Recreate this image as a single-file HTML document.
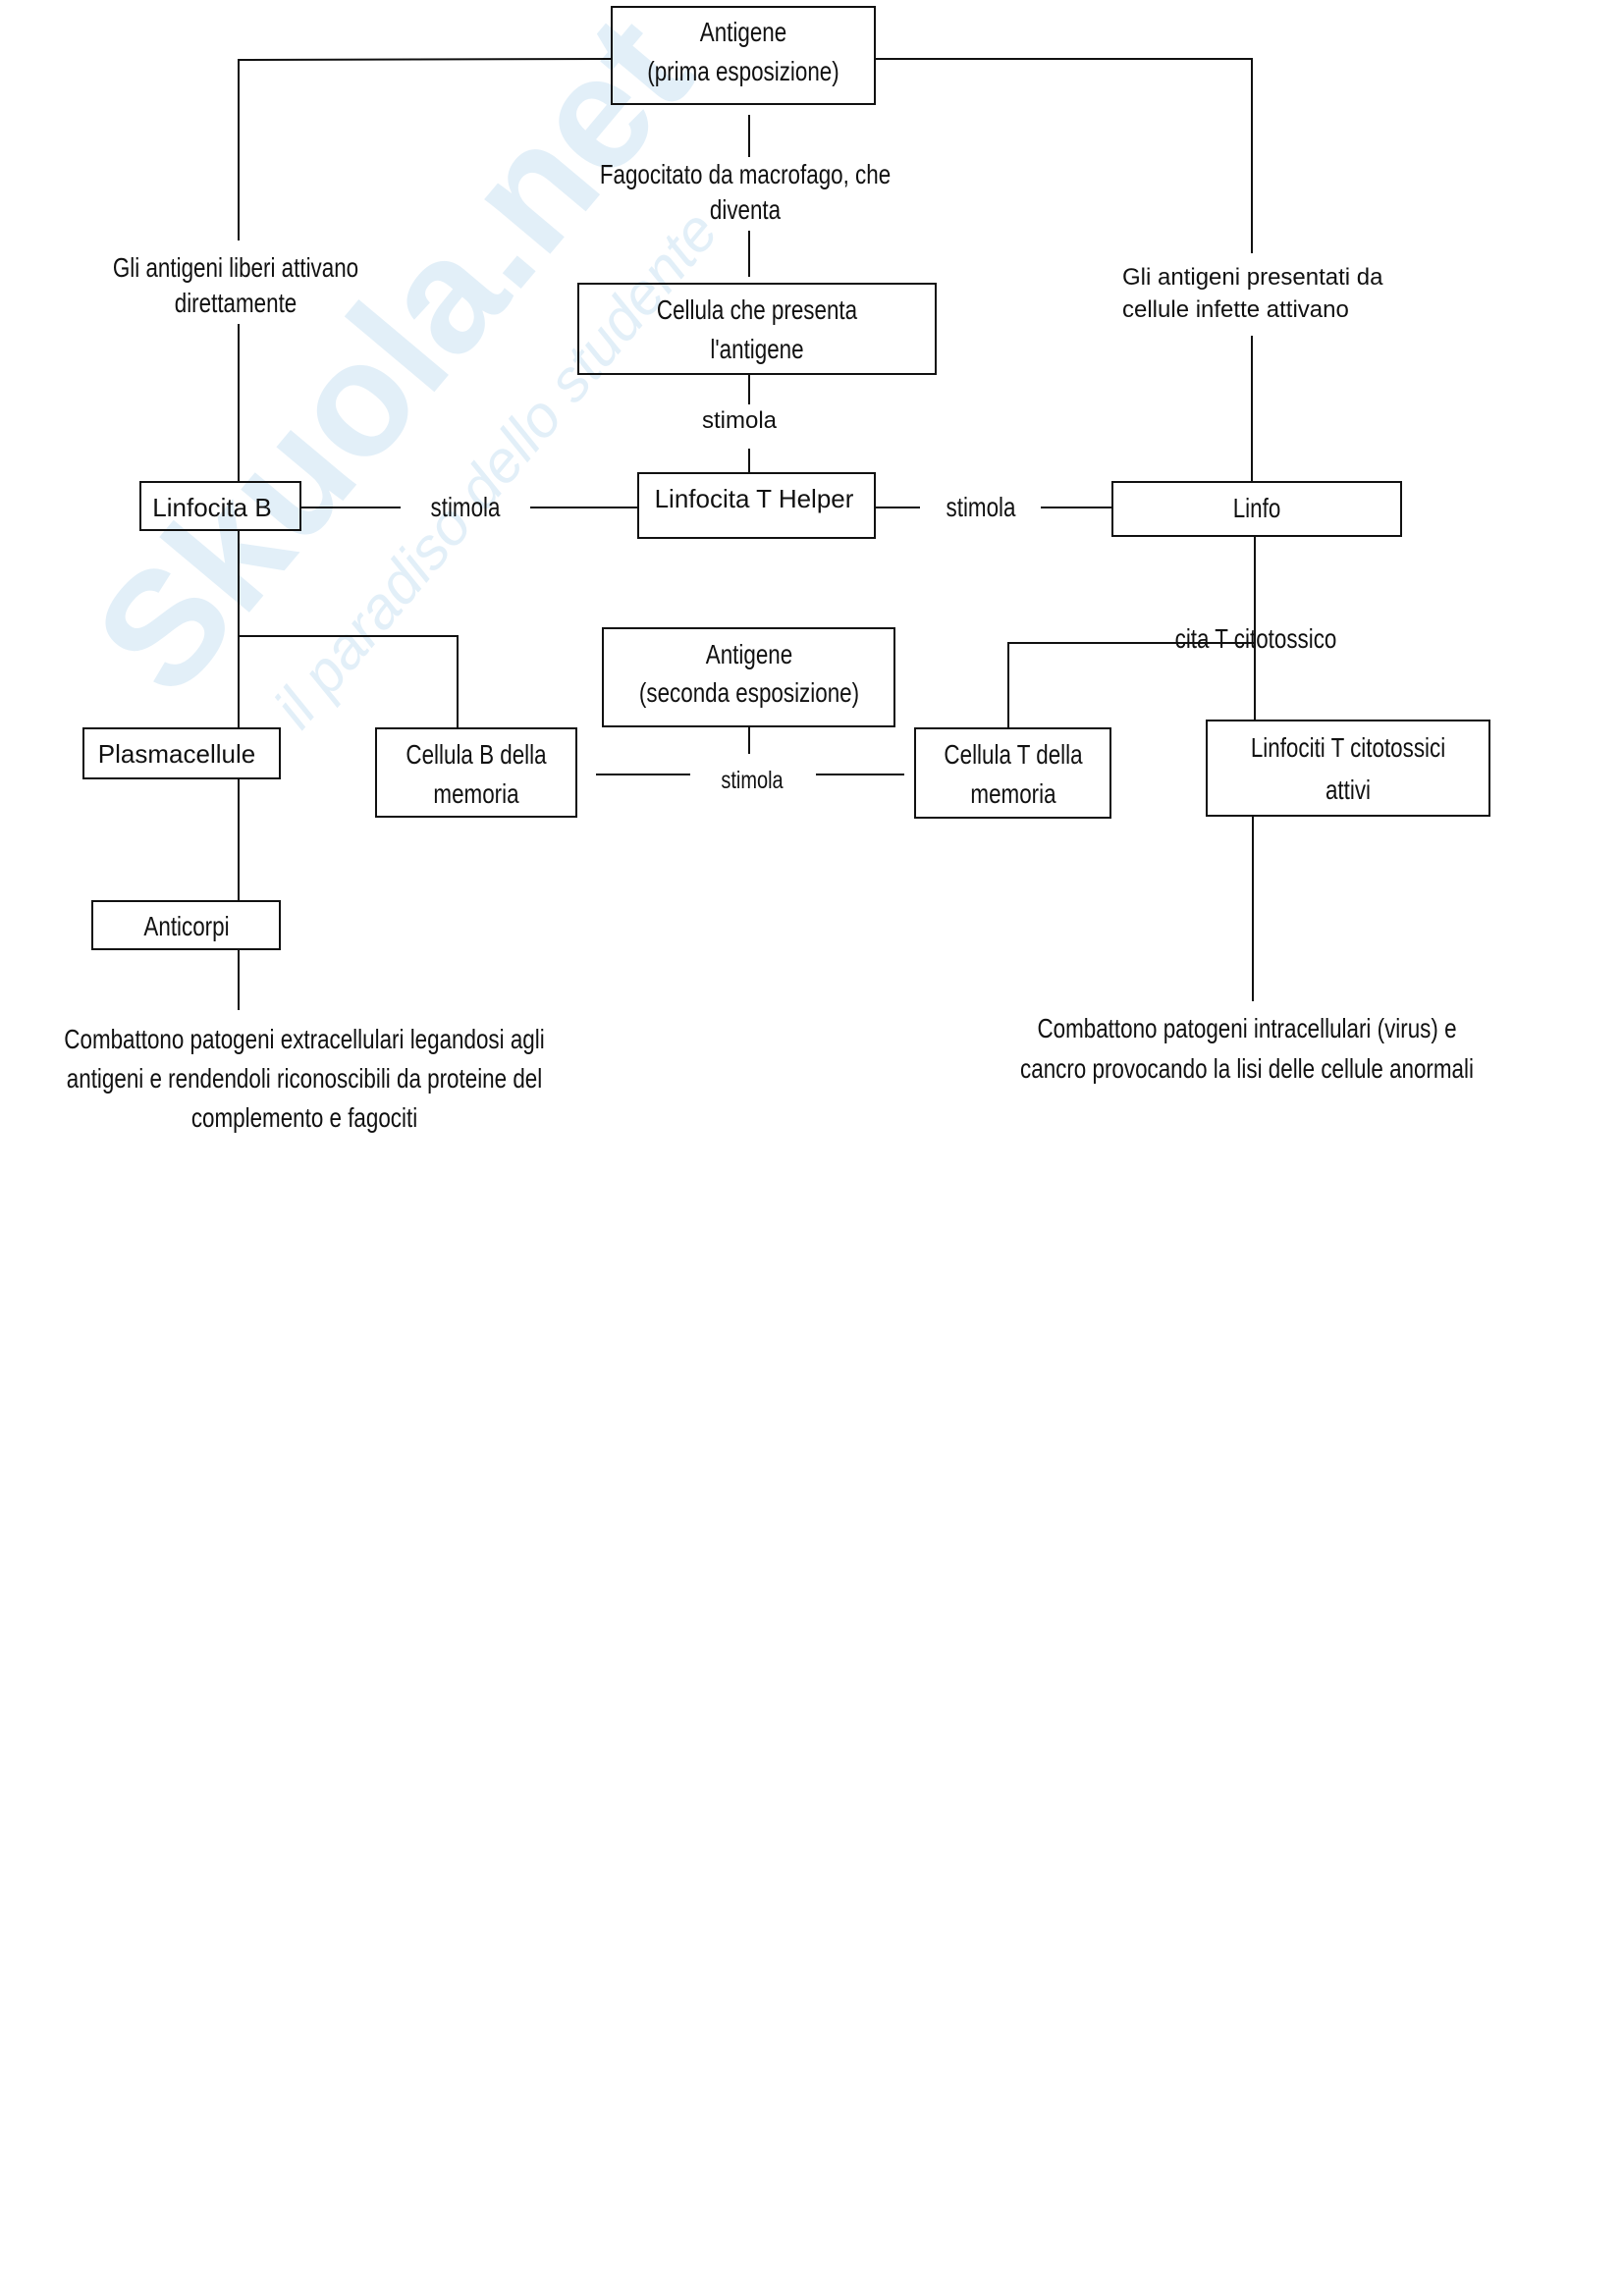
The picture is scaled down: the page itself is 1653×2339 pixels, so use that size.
<!DOCTYPE html>
<html><head><meta charset="utf-8"><style>
body{margin:0;width:1653px;height:2339px;background:#fff;position:relative;overflow:hidden}
.t{position:absolute;font-family:"Liberation Sans",sans-serif;font-size:28px;color:#111;white-space:nowrap;line-height:40px;text-align:center;transform:translateX(-50%) scaleX(0.8)}
.w{font-size:24px;transform:translateX(-50%)}
.b{position:absolute;border:2px solid #111;box-sizing:border-box;background:transparent}
.wm{position:absolute;font-family:"Liberation Sans",sans-serif;font-weight:bold;color:#e2eff8;white-space:nowrap}
</style></head><body>
<div class="wm" style="left:60px;top:620px;font-size:165px;transform:rotate(-50deg);transform-origin:left top">Skuola.net</div>
<div class="wm" style="left:265px;top:710px;font-size:60px;font-weight:normal;font-style:italic;transform:rotate(-50deg);transform-origin:left top">il paradiso dello studente</div>
<svg width="1653" height="2339" style="position:absolute;left:0;top:0" stroke="#111" stroke-width="2" fill="none">
<polyline points="622,60 243,61 243,245"/>
<line x1="243" y1="330" x2="243" y2="490"/>
<polyline points="892,60 1275,60 1275,258"/>
<line x1="1275" y1="342" x2="1275" y2="490"/>
<line x1="763" y1="117" x2="763" y2="160"/>
<line x1="763" y1="235" x2="763" y2="282"/>
<line x1="763" y1="382" x2="763" y2="412"/>
<line x1="763" y1="457" x2="763" y2="481"/>
<line x1="307" y1="517" x2="408" y2="517"/>
<line x1="540" y1="517" x2="649" y2="517"/>
<line x1="892" y1="517" x2="937" y2="517"/>
<line x1="1060" y1="517" x2="1132" y2="517"/>
<line x1="1278" y1="547" x2="1278" y2="733"/>
<polyline points="1278,655 1027,655 1027,741"/>
<line x1="1276" y1="832" x2="1276" y2="1020"/>
<line x1="763" y1="741" x2="763" y2="768"/>
<line x1="607" y1="789" x2="703" y2="789"/>
<line x1="831" y1="789" x2="921" y2="789"/>
<line x1="243" y1="541" x2="243" y2="741"/>
<polyline points="243,648 466,648 466,741"/>
<line x1="243" y1="794" x2="243" y2="917"/>
<line x1="243" y1="968" x2="243" y2="1029"/>
</svg>
<div class="b" style="left:622px;top:6px;width:270px;height:101px"></div>
<div class="t" style="left:757px;top:13px">Antigene</div>
<div class="t" style="left:757px;top:53px">(prima esposizione)</div>
<div class="t" style="left:240px;top:253px">Gli antigeni liberi attivano</div>
<div class="t" style="left:240px;top:289px">direttamente</div>
<div class="t w" style="left:1143px;top:263px;transform:none;text-align:left">Gli antigeni presentati da</div>
<div class="t w" style="left:1143px;top:296px;transform:none;text-align:left">cellule infette attivano</div>
<div class="t" style="left:759px;top:158px">Fagocitato da macrofago, che</div>
<div class="t" style="left:759px;top:194px">diventa</div>
<div class="b" style="left:588px;top:288px;width:366px;height:94px"></div>
<div class="t" style="left:771px;top:296px">Cellula che presenta</div>
<div class="t" style="left:771px;top:336px">l'antigene</div>
<div class="t w" style="left:753px;top:409px">stimola</div>
<div class="b" style="left:649px;top:481px;width:243px;height:68px"></div>
<div class="t w" style="left:768px;top:488px;font-size:26px">Linfocita T Helper</div>
<div class="b" style="left:142px;top:490px;width:165px;height:51px"></div>
<div class="t w" style="left:216px;top:497px;font-size:26px">Linfocita B</div>
<div class="t" style="left:474px;top:497px">stimola</div>
<div class="t" style="left:999px;top:497px">stimola</div>
<div class="b" style="left:1132px;top:490px;width:296px;height:57px"></div>
<div class="t" style="left:1280px;top:498px">Linfo</div>
<div class="t" style="left:1279px;top:631px">cita T citotossico</div>
<div class="b" style="left:1228px;top:733px;width:290px;height:99px"></div>
<div class="t" style="left:1373px;top:742px">Linfociti T citotossici</div>
<div class="t" style="left:1373px;top:785px">attivi</div>
<div class="t" style="left:1270px;top:1028px">Combattono patogeni intracellulari (virus) e</div>
<div class="t" style="left:1270px;top:1069px">cancro provocando la lisi delle cellule anormali</div>
<div class="b" style="left:931px;top:741px;width:201px;height:93px"></div>
<div class="t" style="left:1032px;top:749px">Cellula T della</div>
<div class="t" style="left:1032px;top:789px">memoria</div>
<div class="b" style="left:613px;top:639px;width:299px;height:102px"></div>
<div class="t" style="left:763px;top:647px">Antigene</div>
<div class="t" style="left:763px;top:686px">(seconda esposizione)</div>
<div class="t" style="left:766px;top:775px;font-size:25px">stimola</div>
<div class="b" style="left:382px;top:741px;width:206px;height:92px"></div>
<div class="t" style="left:485px;top:749px">Cellula B della</div>
<div class="t" style="left:485px;top:789px">memoria</div>
<div class="b" style="left:84px;top:741px;width:202px;height:53px"></div>
<div class="t w" style="left:180px;top:748px;font-size:26px">Plasmacellule</div>
<div class="b" style="left:93px;top:917px;width:193px;height:51px"></div>
<div class="t" style="left:190px;top:924px">Anticorpi</div>
<div class="t" style="left:310px;top:1039px">Combattono patogeni extracellulari legandosi agli</div>
<div class="t" style="left:310px;top:1079px">antigeni e rendendoli riconoscibili da proteine del</div>
<div class="t" style="left:310px;top:1119px">complemento e fagociti</div>
</body></html>
